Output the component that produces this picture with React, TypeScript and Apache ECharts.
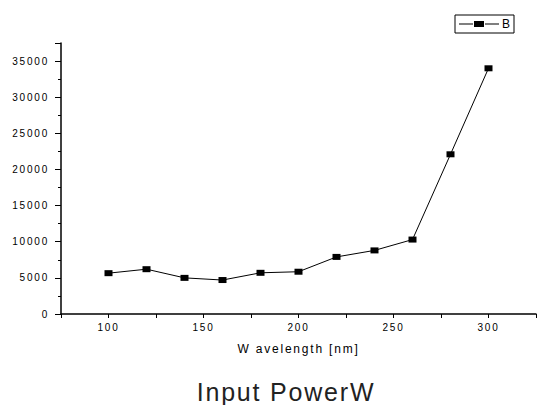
import React, { useEffect, useRef } from "react";
import * as echarts from "echarts";

const wavelengths = [100, 120, 140, 160, 180, 200, 220, 240, 260, 280, 300];
const valuesB = [5650, 6200, 5000, 4700, 5700, 5850, 7900, 8800, 10300, 22100, 34000];
const seriesName = "B";
const xAxisName = "W avelength [nm]";
const chartTitle = "Input PowerW";

export default function App() {
  const ref = useRef<HTMLDivElement>(null);
  useEffect(() => {
    document.body.style.margin = "0";
    if (!ref.current) return;
    const chart = echarts.init(ref.current, null, { renderer: "svg" });
    const font = "'Liberation Sans', Arial, sans-serif";
    chart.setOption({
      animation: false,
      grid: { left: 61, right: 1, top: 43, bottom: 91, containLabel: false },
      legend: {
        left: 455,
        top: 15,
        padding: [3, 4],
        borderColor: "#000",
        borderWidth: 1,
        borderRadius: 0,
        itemWidth: 40,
        itemHeight: 10,
        itemGap: 5,
        data: [
          {
            name: seriesName,
            icon: "path://M0,4.5 H14 V5.5 H0 Z M15,2 H25 V8 H15 Z M26,4.5 H40 V5.5 H26 Z",
          },
        ],
        textStyle: { fontFamily: font, fontSize: 12, color: "#000", padding: [0, 0, 0, -2] },
      },
      graphic: [
        {
          type: "text",
          x: 286,
          y: 379,
          style: {
            text: chartTitle,
            textAlign: "center",
            textVerticalAlign: "top",
            fontFamily: font,
            fontSize: 25,
            fill: "#222",
          },
        },
      ],
      xAxis: {
        type: "value",
        min: 75,
        max: 325,
        interval: 25,
        name: xAxisName,
        nameLocation: "middle",
        nameGap: 29,
        nameTextStyle: { fontFamily: font, fontSize: 12, color: "#000" },
        axisLine: { lineStyle: { color: "#000", width: 1.5 } },
        axisTick: { show: true, inside: false, length: 4, lineStyle: { color: "#000", width: 1 } },
        axisLabel: {
          fontFamily: font,
          fontSize: 10,
          color: "#000",
          margin: 8,
          formatter: (v: number) => (v % 50 === 0 ? String(v) : ""),
        },
        splitLine: { show: false },
      },
      yAxis: {
        type: "value",
        min: 0,
        max: 37500,
        interval: 5000,
        axisLine: { show: true, lineStyle: { color: "#000", width: 1.5 } },
        axisTick: { show: true, inside: false, length: 6, lineStyle: { color: "#000", width: 1 } },
        minorTick: { show: true, splitNumber: 2, length: 3, lineStyle: { color: "#000", width: 1 } },
        axisLabel: {
          fontFamily: font,
          fontSize: 10,
          color: "#000",
          margin: 12,
          showMaxLabel: false,
          formatter: (v: number) => String(v),
        },
        splitLine: { show: false },
      },
      series: [
        {
          name: seriesName,
          type: "line",
          data: wavelengths.map((w, i) => [w, valuesB[i]]),
          symbol: "rect",
          symbolSize: [8, 6],
          itemStyle: { color: "#000" },
          lineStyle: { color: "#000", width: 1 },
        },
      ],
    });
    return () => chart.dispose();
  }, []);
  return (
    <>
      <style>{"#chartbox text { letter-spacing: 1.8px; }"}</style>
      <div id="chartbox" ref={ref} style={{ width: 539, height: 405 }} />
    </>
  );
}
